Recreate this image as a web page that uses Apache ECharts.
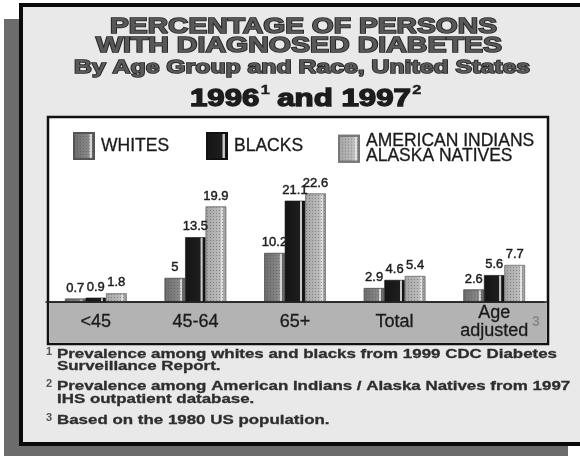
<!DOCTYPE html>
<html><head><meta charset="utf-8">
<script src="https://cdn.jsdelivr.net/npm/echarts@6/dist/echarts.min.js"></script>
<style>html,body{margin:0;padding:0;background:#fff}#c{width:580px;height:458px}</style>
</head><body><div id="c"></div>
<script>
// ---- data ----
const categories = ['<45', '45-64', '65+', 'Total', 'Age adjusted'];
const whites = [0.7, 5, 10.2, 2.9, 2.6];
const blacks = [0.9, 13.5, 21.1, 4.6, 5.6];
const aian = [1.8, 19.9, 22.6, 5.4, 7.7];
const seriesNames = ['WHITES', 'BLACKS', 'AMERICAN INDIANS\nALASKA NATIVES'];
const titleLines = ['PERCENTAGE OF PERSONS', 'WITH DIAGNOSED DIABETES', 'By Age Group and Race, United States'];
const yearParts = ['1996', '1', ' and 1997', '2'];
const ageNoteMark = '3';
const footnoteMarks = ['1', '2', '3'];
const footnoteLines = [
  ['Prevalence among whites and blacks from 1999 CDC Diabetes', 'Surveillance Report.'],
  ['Prevalence among American Indians / Alaska Natives from 1997', 'IHS outpatient database.'],
  ['Based on the 1980 US population.']
];

// ---- helpers ----
const FF = '"Liberation Sans", Arial, sans-serif';
const mctx = document.createElement('canvas').getContext('2d');
function tw(text, font) { mctx.font = font; return mctx.measureText(text).width; }

const graphics = [];
// shadow
graphics.push({ type: 'rect', z: 0, shape: { x: 4, y: 19, width: 564, height: 437 }, style: { fill: '#6c6c6c' } });
// panel
graphics.push({ type: 'rect', z: 0, shape: { x: 21, y: 5, width: 620, height: 439 }, style: { fill: '#e9e9e9', stroke: '#0a0a0a', lineWidth: 4 } });
// inner chart box
graphics.push({ type: 'rect', z: 0, shape: { x: 48, y: 117, width: 500, height: 227 }, style: { fill: '#ffffff', stroke: '#111', lineWidth: 2.5 } });
// gray band below baseline
graphics.push({ type: 'rect', z: 0, shape: { x: 49.5, y: 302, width: 497, height: 40.5 }, style: { fill: '#b3b3b3' } });
graphics.push({ type: 'line', z: 1, shape: { x1: 49, y1: 302, x2: 547, y2: 302 }, style: { stroke: '#222', lineWidth: 1.5 } });
// superscript note mark beside "Age adjusted"
graphics.push({ type: 'text', z: 12, x: 532, y: 322,
  style: { text: ageNoteMark, font: `bold 14px ${FF}`, fill: '#8a8a8a',
    textAlign: 'left', textVerticalAlign: 'middle', align: 'left', verticalAlign: 'middle' } });

// title lines (wide heavy face emulated with horizontal scaling)
const titleSpec = [
  { l: 110, r: 497, cy: 26, f: 22, fill: '#585858' },
  { l: 96, r: 502, cy: 45, f: 22, fill: '#585858' },
  { l: 74, r: 530, cy: 67, f: 19, fill: '#5a5a5a' }
];
titleLines.forEach((t, i) => {
  const s = titleSpec[i];
  const font = `bold ${s.f}px ${FF}`;
  const k = (s.r - s.l) / tw(t, font);
  graphics.push({
    type: 'text', z: 5, x: s.l, y: s.cy + s.f * 0.06, scaleX: k,
    style: { text: t, font: font, fill: s.fill, stroke: '#262626', lineWidth: 1.6,
      textAlign: 'left', textVerticalAlign: 'middle', align: 'left', verticalAlign: 'middle' }
  });
});
// year line with superscripts
(function () {
  const big = `bold 23px ${FF}`, small = `bold 12px ${FF}`;
  const fonts = [big, small, big, small];
  const widths = yearParts.map((p, i) => tw(p, fonts[i]));
  const total = widths.reduce((a, b) => a + b, 0);
  const l = 190, r = 420;
  const k = (r - l) / total;
  const children = [];
  let x = 0;
  yearParts.forEach((p, i) => {
    const sup = i % 2 === 1;
    children.push({ type: 'text', x: x + (sup ? 1 : 0), y: sup ? -7 : 1.4,
      style: { text: p, font: fonts[i], fill: '#1c1c1c', stroke: '#1c1c1c', lineWidth: sup ? 0.4 : 1.3,
        textAlign: 'left', textVerticalAlign: 'middle', align: 'left', verticalAlign: 'middle' } });
    x += widths[i];
  });
  graphics.push({ type: 'group', z: 5, x: l, y: 98, scaleX: k, children: children });
})();

// footnotes
(function () {
  const font = `bold 12.5px ${FF}`;
  const k = (557 - 57) / tw(footnoteLines[0][0], font);
  const ys = [[354, 366], [386, 399], [420]];
  footnoteLines.forEach((lines, i) => {
    graphics.push({ type: 'text', z: 5, x: 46, y: ys[i][0] - 2,
      style: { text: footnoteMarks[i], font: `bold 11px ${FF}`, fill: '#555',
        textAlign: 'left', textVerticalAlign: 'middle', align: 'left', verticalAlign: 'middle' } });
    lines.forEach((t, j) => {
      graphics.push({ type: 'text', z: 5, x: 57, y: ys[i][j] + 0.8, scaleX: k,
        style: { text: t, font: font, fill: '#2e2e2e', stroke: '#2e2e2e', lineWidth: 0.3,
          textAlign: 'left', textVerticalAlign: 'middle', align: 'left', verticalAlign: 'middle' } });
    });
  });
})();

// ---- bar styles ----
function stripe(base, dark, light) {
  return { type: 'linear', x: 0, y: 0, x2: 1, y2: 0, colorStops: [
    { offset: 0, color: dark }, { offset: 0.74, color: base },
    { offset: 0.76, color: light }, { offset: 0.84, color: light },
    { offset: 0.86, color: dark }, { offset: 1, color: dark } ] };
}
const styles = [
  { color: stripe('#8a8a8a', '#6c6c6c', '#d8d8d8'), borderColor: '#555', borderWidth: 0.6,
    decal: { symbol: 'rect', symbolSize: 1, color: 'rgba(60,60,60,0.35)', dashArrayX: [1, 2], dashArrayY: [1, 2] } },
  { color: stripe('#1e1e1e', '#141414', '#c8c8c8'), borderColor: '#111', borderWidth: 0.6 },
  { color: stripe('#bdbdbd', '#a5a5a5', '#e2e2e2'), borderColor: '#777', borderWidth: 0.6,
    decal: { symbol: 'rect', symbolSize: 1, color: 'rgba(90,90,90,0.55)', dashArrayX: [1, 2], dashArrayY: [1, 2] } }
];
const dataSets = [whites, blacks, aian];

const option = {
  backgroundColor: '#ffffff',
  animation: false,
  graphic: { elements: graphics },
  legend: seriesNames.map((n, i) => ({
    data: [n], left: [73, 206, 338][i], top: 132, itemWidth: 20, itemHeight: 26,
    icon: 'rect', selectedMode: false, padding: 0,
    textStyle: { fontFamily: FF, fontSize: 17.5, color: '#1a1a1a', lineHeight: 15, padding: [0, 0, 0, 2],
      textBorderColor: '#1a1a1a', textBorderWidth: 0.3 }
  })),
  grid: { left: 46, width: 498, top: 182, height: 120 },
  xAxis: {
    type: 'category', data: categories, z: 10,
    axisLine: { show: true, lineStyle: { color: '#222', width: 1.5 } },
    axisTick: { show: false },
    axisLabel: {
      interval: 0, margin: 20, verticalAlign: 'middle', fontFamily: FF, fontSize: 18, color: '#1a1a1a', lineHeight: 18,
      textBorderColor: '#1a1a1a', textBorderWidth: 0.3,
      formatter: v => v === 'Age adjusted' ? 'Age\nadjusted' : v
    }
  },
  yAxis: { type: 'value', min: 0, max: 25, show: false, splitLine: { show: false } },
  series: dataSets.map((d, i) => ({
    type: 'bar', name: seriesNames[i], data: d, barWidth: 20.5, barGap: '0%',
    itemStyle: styles[i],
    label: { show: true, position: 'top', distance: 4, fontFamily: FF, fontSize: 13, color: '#1e1e1e',
      textBorderColor: '#1e1e1e', textBorderWidth: 0.45 }
  }))
};
const chart = echarts.init(document.getElementById('c'), null, { renderer: 'canvas' });
chart.setOption(option);
</script>
</body></html>
